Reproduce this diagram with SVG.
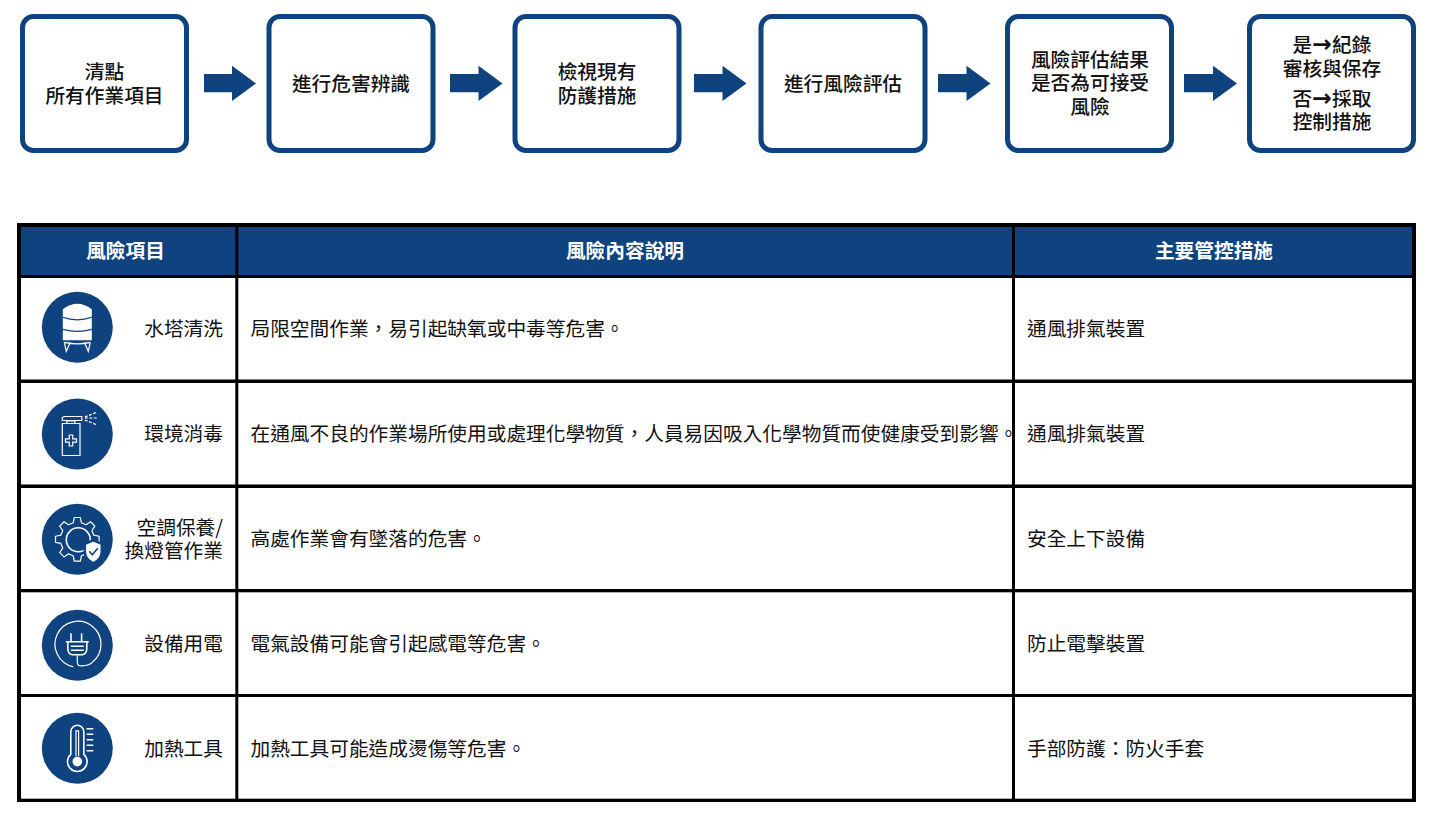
<svg xmlns="http://www.w3.org/2000/svg" width="1431" height="816" viewBox="0 0 1431 816">
<style>
text{font-family:"Noto Sans CJK TC","Noto Sans CJK SC",sans-serif;font-size:19.7px;fill:#111}
.box{fill:#fff;stroke:#0f4380;stroke-width:5}
.flow{text-anchor:middle;font-weight:500}
.head{text-anchor:middle;font-weight:700;fill:#fff}
.lbl{text-anchor:end}
.grid{fill:#000}
.arrow{fill:#0f4380}
.disc{fill:#0f4380}
.ln{fill:none;stroke:#fff;stroke-width:1.2}
.ln2{fill:none;stroke:#fff;stroke-width:1.6}
.wf{fill:#fff}
.ar{font-family:"DejaVu Sans",sans-serif;font-weight:700;font-size:23.5px}
</style>
<g id="step1"><rect class="box" x="22.500" y="16.500" width="164" height="134" rx="11"/><text class="flow" x="104.500" y="79">清點</text><text class="flow" x="104.500" y="102.500">所有作業項目</text></g>
<g id="step2"><rect class="box" x="269" y="16.500" width="164" height="134" rx="11"/><text class="flow" x="351" y="91">進行危害辨識</text></g>
<g id="step3"><rect class="box" x="515" y="16.500" width="164" height="134" rx="11"/><text class="flow" x="597" y="79">檢視現有</text><text class="flow" x="597" y="102.500">防護措施</text></g>
<g id="step4"><rect class="box" x="761" y="16.500" width="164" height="134" rx="11"/><text class="flow" x="843" y="91">進行風險評估</text></g>
<g id="step5"><rect class="box" x="1007.500" y="16.500" width="164" height="134" rx="11"/><text class="flow" x="1090" y="67">風險評估結果</text><text class="flow" x="1090" y="90">是否為可接受</text><text class="flow" x="1090" y="114">風險</text></g>
<g id="step6"><rect class="box" x="1249.500" y="16.500" width="164" height="134" rx="11"/><text class="flow" x="1332" y="52">是<tspan class="ar">→</tspan>紀錄</text><text class="flow" x="1332" y="75.500">審核與保存</text><text class="flow" x="1332" y="106">否<tspan class="ar">→</tspan>採取</text><text class="flow" x="1332" y="129">控制措施</text></g>
<g id="connectors">
<path class="arrow" d="M204 74H232V65.700L256 83.500 232 101V92.300H204Z"/>
<path class="arrow" d="M450 74H478.500V65.700L502.500 83.500 478.500 101V92.300H450Z"/>
<path class="arrow" d="M694 74H722.500V65.700L746.500 83.500 722.500 101V92.300H694Z"/>
<path class="arrow" d="M938 74H966.500V65.700L990.500 83.500 966.500 101V92.300H938Z"/>
<path class="arrow" d="M1184 74H1213V65.700L1237 83.500 1213 101V92.300H1184Z"/>
</g>
<g id="table">
<rect x="21" y="227" width="1391" height="48" fill="#0f4380"/>
<g class="grid">
<rect x="17" y="223" width="1399" height="4"/>
<rect x="17" y="275" width="1399" height="3"/>
<rect x="17" y="379.500" width="1399" height="3.500"/>
<rect x="17" y="484.500" width="1399" height="3.500"/>
<rect x="17" y="589" width="1399" height="3.300"/>
<rect x="17" y="694" width="1399" height="3"/>
<rect x="17" y="798.700" width="1399" height="3.300"/>
<rect x="17" y="223" width="4" height="579"/>
<rect x="235.300" y="223" width="3" height="579"/>
<rect x="1012" y="223" width="3" height="579"/>
<rect x="1412" y="223" width="4" height="579"/>
</g>
<text class="head" x="125.500" y="258">風險項目</text>
<text class="head" x="625" y="258">風險內容說明</text>
<text class="head" x="1214" y="258">主要管控措施</text>
</g>
<g id="row1">
<g id="icon1" transform="translate(77.300 327.300)">
<circle class="disc" r="35.500"/>
<path class="wf" d="M-14.500-18Q0-29 14.500-18V13H-14.500Z"/>
<path d="M-14.500-10Q0-5 14.500-10M-14.500 2Q0 6 14.500 2" fill="none" stroke="#0f4380" stroke-width="1.200"/>
<path class="ln" d="M-13 15L-11 24-7 15M13 15L11 24 7 15M-13 15Q0 18 13 15"/>
</g>
<text class="lbl" x="223" y="336">水塔清洗</text>
<text x="250.500" y="336">局限空間作業，易引起缺氧或中毒等危害。</text>
<text x="1027" y="336">通風排氣裝置</text>
</g>
<g id="row2">
<g id="icon2" transform="translate(77.300 434)">
<circle class="disc" r="35.500"/>
<path class="ln" d="M-15-10.500H2.700V21.500H-15ZM-10.500-10.500V-13H-2.500V-10.500M-15-13V-16.500L-13-17.500H4.500V-13.500H-15Z"/>
<path class="ln" d="M-11.800 4.800H-8V1H-4.600V4.800H-0.800V8.200H-4.600V12H-8V8.200H-11.800Z"/>
<path class="ln" stroke-dasharray="3 1.500" stroke-width="0.800" d="M7.500-17L20-22M7.500-16H20M7.500-14L20-9"/>
</g>
<text class="lbl" x="223" y="441">環境消毒</text>
<text x="250.500" y="441">在通風不良的作業場所使用或處理化學物質，人員易因吸入化學物質而使健康受到影響。</text>
<text x="1027" y="441">通風排氣裝置</text>
</g>
<g id="row3">
<g id="icon3" transform="translate(77.300 539.300)">
<circle class="disc" r="35.500"/>
<path class="ln" stroke-linejoin="round" d="M16.500-4.110L21.800-3.060V3.060L16.500 4.110L14.570 8.760L17.580 13.250L13.250 17.580L8.760 14.570L4.110 16.500L3.060 21.800H-3.060L-4.110 16.500L-8.760 14.570L-13.250 17.580L-17.580 13.250L-14.570 8.760L-16.500 4.110L-21.800 3.060V-3.060L-16.500-4.110L-14.570-8.760L-17.580-13.250L-13.250-17.580L-8.760-14.570L-4.110-16.500L-3.060-21.800H3.060L4.110-16.500L8.760-14.570L13.250-17.580L17.580-13.250L14.570-8.760Z"/>
<circle class="ln2" cx="1" cy="0.500" r="12"/>
<path class="wf" stroke="#0f4380" stroke-width="2.500" d="M16 1L24.500 4.500V12Q24.500 20 16 24 7.500 20 7.500 12V4.500Z"/>
<path d="M12 12L15 15.500 20.500 9" fill="none" stroke="#0f4380" stroke-width="1.600"/>
</g>
<text class="lbl" x="223" y="535">空調保養/</text>
<text class="lbl" x="223" y="558">換燈管作業</text>
<text x="250.500" y="546">高處作業會有墜落的危害。</text>
<text x="1027" y="546">安全上下設備</text>
</g>
<g id="row4">
<g id="icon4" transform="translate(77.300 645.300)">
<circle class="disc" r="35.500"/>
<path class="ln" d="M-4 21.500A23 23 0 1 1 15 17"/>
<path class="ln2" stroke-width="1.800" d="M-6.300-12V-4M4.300-12V-4M-11.500-3.500H11.500M-9.500-3.500V3Q-9.500 9-5 9.500H5Q9.500 9 9.500 3V-3.500M-6.500 1H6.500M-6.500 5H6.500"/>
<path class="ln" d="M0 10V17Q0 21 5 20.500Q12 20 15 17"/>
</g>
<text class="lbl" x="223" y="651">設備用電</text>
<text x="250.500" y="651">電氣設備可能會引起感電等危害。</text>
<text x="1027" y="651">防止電擊裝置</text>
</g>
<g id="row5">
<g id="icon5" transform="translate(77.300 748.300)">
<circle class="disc" r="35.500"/>
<path class="ln2" d="M-6.500 6V-16.500A6.500 6.500 0 0 1 6.500-16.500V6A9.800 9.800 0 1 1-6.500 6Z"/>
<path class="ln" d="M-1.300 8V-17.500H1.300V8"/>
<circle class="wf" cy="13.300" r="4.800"/>
<path class="ln2" d="M9.300-19.500H16M9.300-14H16M9.300-8.500H16M9.300-3H16M9.300 2.500H16"/>
</g>
<text class="lbl" x="223" y="756">加熱工具</text>
<text x="250.500" y="756">加熱工具可能造成燙傷等危害。</text>
<text x="1027" y="756">手部防護：防火手套</text>
</g>
</svg>
